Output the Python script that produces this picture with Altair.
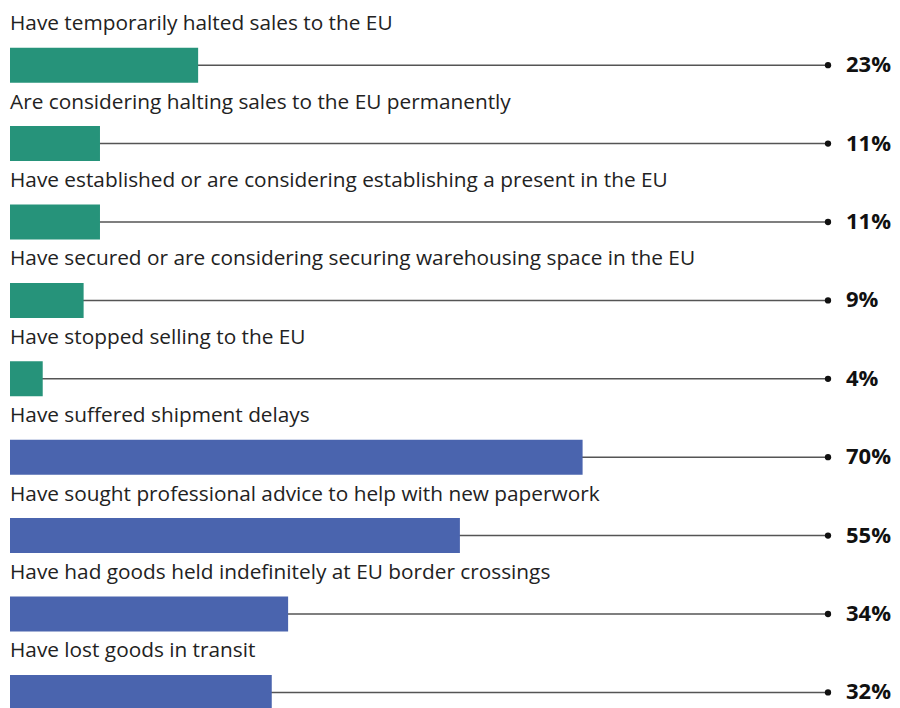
import altair as alt
import pandas as pd

labels = [
    "Have temporarily halted sales to the EU",
    "Are considering halting sales to the EU permanently",
    "Have established or are considering establishing a present in the EU",
    "Have secured or are considering securing warehousing space in the EU",
    "Have stopped selling to the EU",
    "Have suffered shipment delays",
    "Have sought professional advice to help with new paperwork",
    "Have had goods held indefinitely at EU border crossings",
    "Have lost goods in transit",
]
values = [23, 11, 11, 9, 4, 70, 55, 34, 32]
groups = ["a", "a", "a", "a", "a", "b", "b", "b", "b"]
colors = {"a": "#26937A", "b": "#4A64AE"}

df = pd.DataFrame({
    "label": labels,
    "value": values,
    "group": groups,
    "end": [100] * len(values),
    "zero": [0] * len(values),
    "pct": [f"{v}%" for v in values],
})

FONT = "Open Sans"
y = alt.Y("label:N", sort=None, axis=None,
          scale=alt.Scale(paddingInner=0, paddingOuter=0, range=[0, 705.6]))
xscale = alt.Scale(domain=[0, 100], nice=False)

base = alt.Chart(df)

rule = base.mark_rule(color="#555555", strokeWidth=1.5).encode(
    x=alt.X("zero:Q", scale=xscale, axis=None), x2="end:Q", y=y)

bars = base.mark_bar(size=35).encode(
    x=alt.X("value:Q", scale=xscale, axis=None),
    y=y,
    color=alt.Color("group:N", legend=None,
                    scale=alt.Scale(domain=list(colors.keys()), range=list(colors.values()))),
)

dots = base.mark_point(filled=True, size=40, color="#111111", opacity=1).encode(
    x=alt.X("end:Q", scale=xscale, axis=None), y=y)

pcts = base.mark_text(align="left", baseline="middle", dx=18, font=FONT,
                      fontSize=22, fontWeight="bold", color="#111111").encode(
    x=alt.X("end:Q", scale=xscale, axis=None), y=y, text="pct:N")

names = base.mark_text(align="left", baseline="middle", dy=-41, font=FONT,
                       fontSize=20.8, color="#222222").encode(
    x=alt.X("zero:Q", scale=xscale, axis=None), y=y, text="label:N")

chart = alt.layer(rule, bars, dots, pcts, names).properties(
    width=818, height=682,
    autosize=alt.AutoSizeParams(type="none"),
    padding={"left": 2, "top": 18, "right": 64, "bottom": 0},
).configure_view(stroke=None)

chart.save("out.html", embed_options={"renderer": "svg", "actions": False})
